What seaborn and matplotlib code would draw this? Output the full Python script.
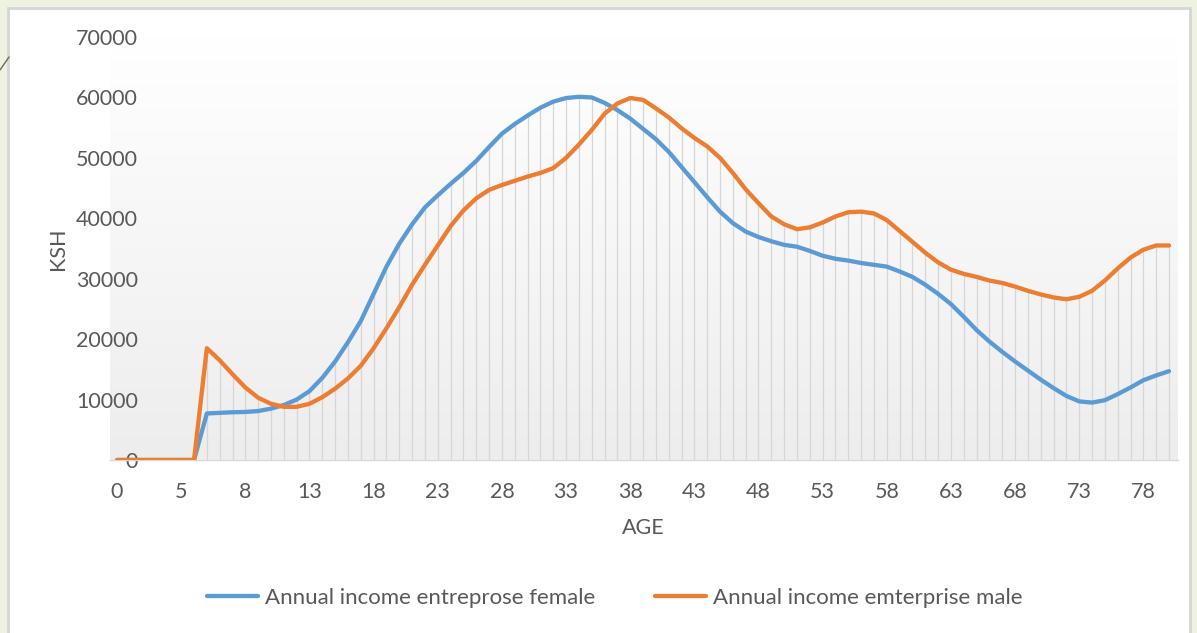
import numpy as np
import pandas as pd
import seaborn as sns
import matplotlib
matplotlib.use("Agg")
import matplotlib.pyplot as plt
from matplotlib.colors import LinearSegmentedColormap
from matplotlib.patches import Rectangle
from matplotlib.lines import Line2D

# Annual enterprise income (KSH) by age category, one value per category
female_income = [
    0, 0, 0, 0, 0, 0, 0, 7700, 7800, 7900,
    7950, 8100, 8500, 9100, 10000, 11400, 13600, 16300, 19500, 23000,
    27500, 32000, 35800, 39000, 41800, 43800, 45700, 47500, 49500, 51800,
    54000, 55600, 57000, 58300, 59300, 59900, 60100, 60000, 59100, 57900,
    56500, 54800, 53100, 51000, 48500, 46000, 43500, 41100, 39200, 37800,
    36900, 36200, 35600, 35300, 34600, 33800, 33300, 33000, 32600, 32300,
    32000, 31200, 30300, 29000, 27500, 25800, 23700, 21500, 19600, 17900,
    16300, 14800, 13300, 11900, 10600, 9700, 9500, 9900, 10900, 12000,
    13200, 14000, 14700,
]
male_income = [
    0, 0, 0, 0, 0, 0, 0, 18500, 16500, 14200,
    12000, 10300, 9300, 8800, 8800, 9300, 10400, 11800, 13500, 15600,
    18500, 21800, 25300, 29000, 32300, 35500, 38700, 41300, 43300, 44700,
    45500, 46200, 46900, 47500, 48300, 50000, 52200, 54600, 57300, 59000,
    59900, 59600, 58200, 56700, 54900, 53300, 51900, 50000, 47500, 44800,
    42500, 40300, 39000, 38200, 38500, 39300, 40300, 41000, 41100, 40800,
    39700, 37900, 36100, 34300, 32700, 31500, 30800, 30300, 29700, 29300,
    28700, 28000, 27400, 26900, 26600, 27000, 28000, 29700, 31700, 33500,
    34800, 35500, 35500,
]
age_tick_labels = ["0", "5", "8", "13", "18", "23", "28", "33", "38", "43",
                   "48", "53", "58", "63", "68", "73", "78"]
y_ticks = [0, 10000, 20000, 30000, 40000, 50000, 60000, 70000]

female_name = "Annual income entreprose female"
male_name = "Annual income emterprise male"

n = len(female_income)
idx = np.arange(n)
df = pd.DataFrame({
    "category": np.concatenate([idx, idx]),
    "income": female_income + male_income,
    "series": [female_name] * n + [male_name] * n,
})

sns.set_theme(style="white")
plt.rcParams["font.family"] = ["Lato", "DejaVu Sans"]

W, H = 1197, 633
fig = plt.figure(figsize=(W / 100, H / 100), dpi=100)
fig.patch.set_facecolor("#eef2e1")

# white slide panel with a thin grey border, kept behind the chart
fig.patches.append(Rectangle((8 / W, -0.02), (1190 - 8) / W, (H - 8) / H + 0.02,
                             transform=fig.transFigure, facecolor="white",
                             edgecolor="#d6d6d6", linewidth=2, zorder=-10))
fig.lines.append(Line2D([0 / W, 9 / W], [1 - 70 / H, 1 - 57 / H],
                        transform=fig.transFigure, color="#6b6b50", lw=1,
                        zorder=-9))

ax = fig.add_axes([110 / W, (H - 460) / H, (1178 - 110) / W, (460 - 37) / H])
ax.set_zorder(2)
ax.set_facecolor("none")
x0, x1 = -0.55, 82.7

# plot-area gradient: white at the top fading to light grey at the bottom
grad_cmap = LinearSegmentedColormap.from_list("plotarea", ["#ffffff", "#ededed"])
ax.imshow(np.linspace(0, 1, 256).reshape(-1, 1), cmap=grad_cmap, aspect="auto",
          extent=[x0, x1, 0, 70000], zorder=0, interpolation="bicubic")

# drop lines from the higher series down to the axis
ax.vlines(idx, 0, np.maximum(female_income, male_income),
          color="#d6d6d6", lw=0.9, zorder=1)

sns.lineplot(data=df, x="category", y="income", hue="series",
             palette={female_name: "#5b9bd5", male_name: "#ed7d31"},
             linewidth=3.1, ax=ax, zorder=3, legend=True)
ax.set_xlim(x0, x1)
ax.set_ylim(0, 70000)

for s in ["top", "right", "left"]:
    ax.spines[s].set_visible(False)
ax.spines["bottom"].set_color("#d9d9d9")
ax.spines["bottom"].set_linewidth(1)

text_color = "#595959"
fs = 15.5
ax.set_xticks(np.arange(0, 81, 5))
ax.set_xticklabels(age_tick_labels)
ax.set_yticks(y_ticks)
ax.set_yticklabels([str(v) for v in y_ticks])
ax.tick_params(axis="x", length=0, pad=16, labelsize=fs, labelcolor=text_color)
ax.tick_params(axis="y", length=0, pad=-20, labelsize=fs, labelcolor=text_color)
for lab in ax.get_yticklabels():
    lab.set_horizontalalignment("right")
ax.set_xlabel("")
ax.set_ylabel("")

fig.text(58 / W, 1 - 249 / H, "KSH", rotation=90, ha="center", va="center",
         fontsize=fs, color=text_color)
fig.text(643 / W, 1 - 528 / H, "AGE", ha="center", va="center",
         fontsize=fs, color=text_color)

leg = ax.legend(loc="center", bbox_to_anchor=(615 / W, 1 - 598 / H),
                bbox_transform=fig.transFigure, ncol=2, frameon=False,
                fontsize=16, handlelength=2.3, handletextpad=0.3,
                columnspacing=2.7, labelcolor=text_color)
for line in leg.get_lines():
    line.set_linewidth(3.1)

fig.savefig("out.png", dpi=100, facecolor=fig.get_facecolor())
